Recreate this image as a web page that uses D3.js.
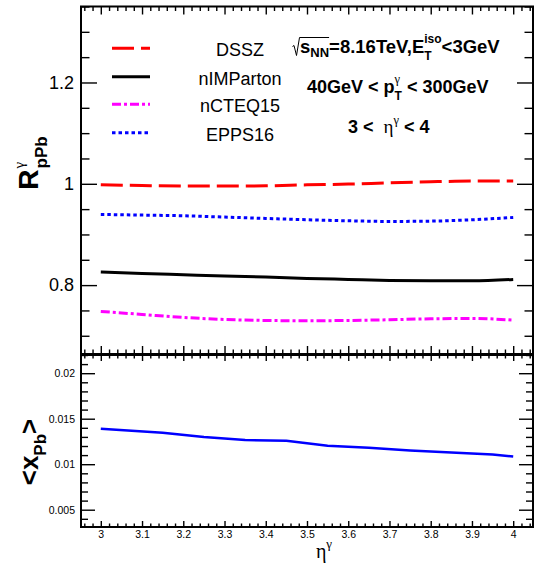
<!DOCTYPE html>
<html>
<head>
<meta charset="utf-8">
<script src="https://cdnjs.cloudflare.com/ajax/libs/d3/7.8.5/d3.min.js"></script>
<style>
  body { margin: 0; background: #fff; }
  svg { display: block; }
  text { white-space: pre; }
</style>
</head>
<body>
<svg width="535" height="565"></svg>
<script>
// ---- data ----
let etaTop = [3.0, 3.1, 3.2, 3.3, 3.4, 3.5, 3.6, 3.7, 3.8, 3.9, 4.0];
let dssz = [0.998, 0.9965, 0.9955, 0.9955, 0.996, 0.998, 0.9994, 1.002, 1.004, 1.0053, 1.0053];
let nimparton = [0.8257, 0.823, 0.8204, 0.8178, 0.8158, 0.8132, 0.8112, 0.8092, 0.8085, 0.8085, 0.8112];
let ncteq15 = [0.748, 0.7421, 0.7362, 0.7322, 0.7302, 0.7296, 0.7302, 0.7316, 0.7335, 0.7342, 0.7309];
let epps16 = [0.9395, 0.9382, 0.9369, 0.9343, 0.9316, 0.929, 0.927, 0.9257, 0.9263, 0.929, 0.9336];

let etaBot = [3.0, 3.15, 3.25, 3.35, 3.45, 3.55, 3.65, 3.75, 3.85, 3.95, 4.0];
let xPb = [0.0139, 0.01346, 0.01298, 0.01265, 0.01258, 0.01203, 0.01181, 0.01151, 0.01129, 0.01107, 0.01085];

let xMajor = [3, 3.1, 3.2, 3.3, 3.4, 3.5, 3.6, 3.7, 3.8, 3.9, 4];
let yTopMajor = [0.8, 1.0, 1.2];
let yBotMajor = [0.005, 0.01, 0.015, 0.02];

let legendNames = ["DSSZ", "nIMParton", "nCTEQ15", "EPPS16"];

// ---- setup ----
const sans = "'Liberation Sans', Arial, Helvetica, sans-serif";
const serif = "'Liberation Serif', 'Times New Roman', serif";

let svg = d3.select("svg");
let L = 81, R = 533;
let x = d3.scaleLinear().domain([2.952, 4.048]).range([L, R]);
let yTop = d3.scaleLinear().domain([0.664, 1.35]).range([354, 6.5]);
let yBot = d3.scaleLinear().domain([0.0031, 0.022]).range([527, 355]);

let xMinor = d3.range(2.96, 4.05, 0.02).filter(v => Math.abs(v * 10 - Math.round(v * 10)) > 1e-6);
let yTopMinor = d3.range(0.7, 1.36, 0.05).filter(v => yTopMajor.every(m => Math.abs(m - v) > 1e-6));
let yBotMinor = d3.range(0.004, 0.0221, 0.001).filter(v => yBotMajor.every(m => Math.abs(m - v) > 1e-7));

let series = [
  {name: "DSSZ", vals: dssz, color: "#ff0000", dash: "22,7"},
  {name: "nIMParton", vals: nimparton, color: "#000000", dash: null},
  {name: "nCTEQ15", vals: ncteq15, color: "#ff00ff", dash: "9,3,3,3"},
  {name: "EPPS16", vals: epps16, color: "#0000ff", dash: "3.5,3"}
];

let gaxes = svg.append("g").attr('class', 'axes');
let glines = svg.append("g").attr('class', 'lines');
let gtext = svg.append("g").attr('class', 'text');

function styleAxis(g, fs) {
  g.select(".domain").remove();
  g.selectAll("line").attr("stroke", "#000").attr("stroke-width", 1.4);
  g.selectAll("text").style("font-family", sans).style("font-size", fs + "px").attr("fill", "#000");
}

// y ticks on both sides, pointing inward
function yTicks(scale, majors, minors, big, small, fmt, fs, pad) {
  gaxes.append("g").attr("transform", `translate(${L},0)`)
    .call(d3.axisLeft(scale).tickValues(minors).tickSize(-small).tickFormat(""))
    .call(g => styleAxis(g, fs));
  gaxes.append("g").attr("transform", `translate(${L},0)`)
    .call(d3.axisLeft(scale).tickValues(majors).tickSize(-big).tickPadding(pad).tickFormat(fmt))
    .call(g => styleAxis(g, fs));
  gaxes.append("g").attr("transform", `translate(${R},0)`)
    .call(d3.axisRight(scale).tickValues(minors).tickSize(-small).tickFormat(""))
    .call(g => styleAxis(g, fs));
  gaxes.append("g").attr("transform", `translate(${R},0)`)
    .call(d3.axisRight(scale).tickValues(majors).tickSize(-big).tickFormat(""))
    .call(g => styleAxis(g, fs));
}

// x ticks at top and bottom edges, pointing inward
function xTicks(yt, yb, big, small, labels) {
  gaxes.append("g").attr("transform", `translate(0,${yt})`)
    .call(d3.axisTop(x).tickValues(xMinor).tickSize(-small).tickFormat(""))
    .call(g => styleAxis(g, 10));
  gaxes.append("g").attr("transform", `translate(0,${yt})`)
    .call(d3.axisTop(x).tickValues(xMajor).tickSize(-big).tickFormat(""))
    .call(g => styleAxis(g, 10));
  gaxes.append("g").attr("transform", `translate(0,${yb})`)
    .call(d3.axisBottom(x).tickValues(xMinor).tickSize(-small).tickFormat(""))
    .call(g => styleAxis(g, 10));
  gaxes.append("g").attr("transform", `translate(0,${yb})`)
    .call(d3.axisBottom(x).tickValues(xMajor).tickSize(-big).tickPadding(4)
      .tickFormat(labels ? (d => String(+d.toFixed(1))) : ""))
    .call(g => styleAxis(g, 10.5));
}

yTicks(yTop, yTopMajor, yTopMinor, 16, 8.5, d => String(+d.toFixed(1)), 18, 7);
yTicks(yBot, yBotMajor, yBotMinor, 14, 7, d => String(+d.toFixed(3)), 10.5, 6);
xTicks(6.5, 354, 8, 4.5, false);
xTicks(355, 527, 6, 3.5, true);

// frames
gaxes.append("rect").attr("x", L).attr("y", 6.5).attr("width", R - L).attr("height", 347.5)
  .attr("fill", "none").attr("stroke", "#000").attr("stroke-width", 2);
gaxes.append("rect").attr("x", L).attr("y", 355).attr("width", R - L).attr("height", 172)
  .attr("fill", "none").attr("stroke", "#000").attr("stroke-width", 2);

// ---- curves ----
let lineTop = d3.line().x(d => x(d[0])).y(d => yTop(d[1])).curve(d3.curveMonotoneX);
glines.selectAll("path.top")
    .data(series)
  .enter().append("path")
    .attr("class", "top")
    .attr("fill", "none")
    .attr("stroke", s => s.color)
    .attr("stroke-width", 3)
    .attr("stroke-dasharray", s => s.dash)
    .attr("d", s => lineTop(etaTop.map((e, i) => [e, s.vals[i]])));

let lineBot = d3.line().x(d => x(d[0])).y(d => yBot(d[1]));
glines.append("path")
  .attr("fill", "none")
  .attr("stroke", "#0000ff")
  .attr("stroke-width", 2.5)
  .attr("d", lineBot(etaBot.map((e, i) => [e, xPb[i]])));

// ---- legend ----
let legY = [48.3, 76.7, 104.3, 132.7];
series.forEach((s, i) => {
  glines.append("line")
    .attr("x1", 112).attr("x2", 150).attr("y1", legY[i]).attr("y2", legY[i])
    .attr("stroke", s.color).attr("stroke-width", 3)
    .attr("stroke-dasharray", s.dash);
  gtext.append("text")
    .attr("x", 240).attr("y", legY[i] + 8)
    .attr("text-anchor", "middle")
    .style("font-family", sans).style("font-size", "18px")
    .text(legendNames[i]);
});

// ---- rich text helper: lays out pieces left to right, stacks sub/sup ----
function rich(parent, x0, y0, parts, anchor) {
  let g = parent.append("g");
  let cx = 0, marks = [];
  parts.forEach(p => {
    if (p.gap) { cx += p.gap; marks.push([cx, cx]); return; }
    let items = p.stack ? p.stack : [p];
    let w = 0;
    items.forEach(it => {
      let t = g.append("text").attr("x", cx).attr("y", it.dy || 0)
        .style("font-size", it.size + "px")
        .style("font-weight", it.bold ? "bold" : "normal")
        .style("font-family", it.serif ? serif : sans)
        .text(it.t);
      w = Math.max(w, t.node().getComputedTextLength());
    });
    marks.push([cx, cx + w]);
    cx += w;
  });
  let dx = anchor === "middle" ? -cx / 2 : anchor === "end" ? -cx : 0;
  g.attr("transform", `translate(${x0 + dx},${y0})`);
  return {g: g, marks: marks, width: cx};
}

// annotation line 1 with a radical over s_NN
let a1 = rich(gtext, 292, 52.5, [
  {gap: 8},
  {t: "s", size: 18.5, bold: true},
  {t: "NN", size: 13, bold: true, dy: 4},
  {t: "=8.16TeV,E", size: 18.5, bold: true},
  {stack: [{t: "iso", size: 12, bold: true, dy: -10}, {t: "T", size: 12, bold: true, dy: 7.5}]},
  {t: "<3GeV", size: 18.5, bold: true}
], "start");
let rEnd = a1.marks[2][1];
a1.g.append("path")
  .attr("d", `M0.5,-6 L2,-7 L4.5,3 L7.5,-15 L${rEnd},-15`)
  .attr("fill", "none").attr("stroke", "#000").attr("stroke-width", 1);

rich(gtext, 307, 92.5, [
  {t: "40GeV < p", size: 18, bold: true},
  {stack: [{t: "γ", size: 12.5, serif: true, dy: -10}, {t: "T", size: 12, bold: true, dy: 7}]},
  {t: " < 300GeV", size: 18, bold: true}
], "start");

rich(gtext, 348, 132.5, [
  {t: "3 <  ", size: 18, bold: true},
  {t: "η", size: 19, serif: true},
  {t: "γ", size: 12.5, serif: true, dy: -9},
  {t: " < 4", size: 18, bold: true}
], "start");

// ---- axis titles ----
let tTop = gtext.append("g").attr("transform", "translate(38,163) rotate(-90)");
rich(tTop, 0, 0, [
  {t: "R", size: 28, bold: true},
  {gap: 1},
  {stack: [{t: "γ", size: 15, serif: true, dy: -14}, {t: "pPb", size: 17, bold: true, dy: 9}]}
], "middle");

let tBot = gtext.append("g").attr("transform", "translate(38,452) rotate(-90)");
rich(tBot, 0, 0, [
  {t: "<x", size: 26, bold: true},
  {t: "Pb", size: 17, bold: true, dy: 8},
  {t: ">", size: 26, bold: true}
], "middle");

rich(gtext, 324, 558, [
  {t: "η", size: 20, serif: true},
  {t: "γ", size: 13, serif: true, dy: -10}
], "middle");
</script>
</body>
</html>
